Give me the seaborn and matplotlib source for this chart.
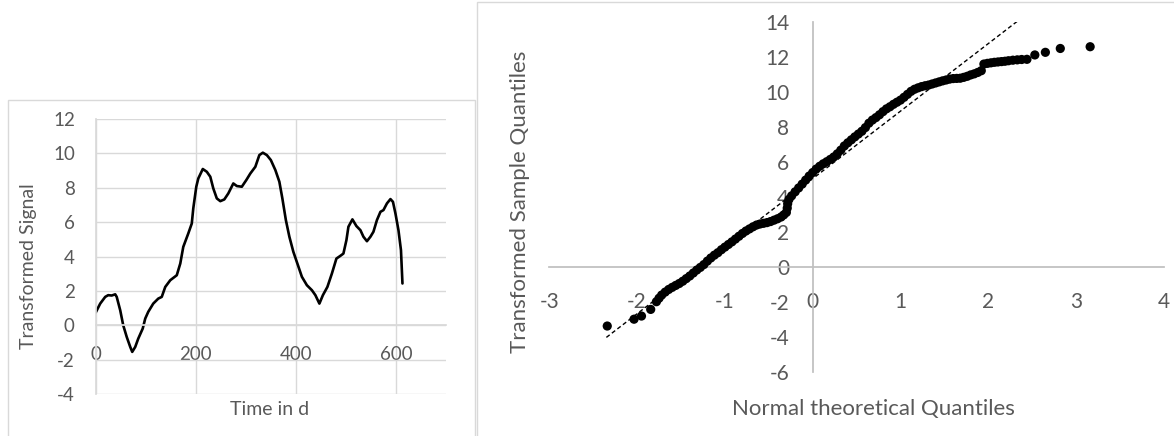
import matplotlib
matplotlib.use("Agg")
import matplotlib.pyplot as plt
import seaborn as sns
import pandas as pd
from matplotlib.patches import Rectangle

sns.set_theme(style="white")
plt.rcParams["font.family"] = ["Lato", "DejaVu Sans"]
plt.rcParams["axes.unicode_minus"] = False

TEXT = "#595959"
GRID = "#d9d9d9"

# left panel: transformed signal over time
days = [0, 9, 19, 25, 32, 39, 42, 49, 55, 62, 69, 73, 79, 85, 94, 99, 105, 115,
        125, 132, 139, 149, 162, 169, 175, 185, 192, 195, 201, 205, 214, 222, 229,
        235, 242, 249, 257, 265, 275, 282, 292, 301, 309, 319, 327, 334, 342, 350,
        359, 367, 373, 380, 387, 395, 403, 412, 422, 432, 439, 447, 454, 463, 472,
        481, 489, 495, 501, 505, 513, 521, 529, 535, 542, 549, 555, 562, 569, 575,
        582, 589, 594, 599, 605, 610, 613]
signal = [0.74, 1.26, 1.65, 1.75, 1.73, 1.80, 1.65, 0.87, 0.0, -0.68, -1.26, -1.55,
          -1.26, -0.78, -0.19, 0.39, 0.78, 1.26, 1.55, 1.65, 2.23, 2.62, 2.91, 3.59,
          4.56, 5.34, 5.92, 6.80, 8.06, 8.54, 9.09, 8.93, 8.64, 7.96, 7.38, 7.22,
          7.32, 7.67, 8.25, 8.10, 8.06, 8.45, 8.83, 9.22, 9.90, 10.04, 9.90, 9.61,
          9.03, 8.35, 7.38, 6.12, 5.15, 4.27, 3.59, 2.82, 2.33, 2.04, 1.75, 1.26,
          1.75, 2.23, 3.01, 3.88, 4.04, 4.17, 4.95, 5.73, 6.16, 5.77, 5.53, 5.15,
          4.89, 5.15, 5.44, 6.12, 6.60, 6.70, 7.09, 7.34, 7.18, 6.50, 5.53, 4.37, 2.43]

# right panel: normal QQ plot
theo_q = [-2.34, -2.035, -1.95, -1.845, -1.78, -1.75, -1.72, -1.68, -1.64, -1.60,
          -1.56, -1.52, -1.48, -1.44, -1.40, -1.36, -1.32, -1.28, -1.24, -1.20,
          -1.16, -1.12, -1.08, -1.04, -1.00, -0.96, -0.92, -0.88, -0.84, -0.80,
          -0.76, -0.72, -0.68, -0.64, -0.60, -0.56, -0.52, -0.48, -0.44, -0.40,
          -0.36, -0.33, -0.30, -0.29, -0.285, -0.27, -0.24, -0.20, -0.16, -0.12,
          -0.08, -0.04, 0.00, 0.04, 0.08, 0.12, 0.16, 0.20, 0.24, 0.28, 0.32, 0.36,
          0.40, 0.44, 0.48, 0.52, 0.56, 0.60, 0.64, 0.68, 0.72, 0.76, 0.80, 0.84,
          0.88, 0.92, 0.96, 1.00, 1.04, 1.08, 1.12, 1.16, 1.20, 1.24, 1.28, 1.32,
          1.36, 1.40, 1.44, 1.48, 1.52, 1.56, 1.60, 1.64, 1.68, 1.72, 1.76, 1.80,
          1.84, 1.88, 1.92, 1.95, 1.99, 2.03, 2.07, 2.11, 2.15, 2.19, 2.23, 2.28,
          2.33, 2.38, 2.44, 2.53, 2.65, 2.82, 3.16]
sample_q = [-3.39, -3.00, -2.82, -2.44, -2.00, -1.80, -1.62, -1.45, -1.30, -1.18,
            -1.07, -0.96, -0.83, -0.68, -0.53, -0.36, -0.19, -0.04, 0.12, 0.32,
            0.50, 0.66, 0.80, 0.97, 1.12, 1.27, 1.42, 1.58, 1.74, 1.90,
            2.04, 2.16, 2.28, 2.38, 2.44, 2.48, 2.52, 2.58, 2.66, 2.74,
            2.84, 2.96, 3.10, 3.35, 3.60, 3.85, 4.05, 4.28, 4.50, 4.72,
            4.95, 5.18, 5.38, 5.58, 5.74, 5.88, 6.00, 6.13, 6.27, 6.45, 6.66, 6.90,
            7.08, 7.25, 7.42, 7.58, 7.74, 7.95, 8.20, 8.38, 8.52, 8.68, 8.86, 9.02,
            9.14, 9.28, 9.40, 9.52, 9.68, 9.85, 10.02, 10.14, 10.22, 10.29, 10.34, 10.38,
            10.44, 10.50, 10.56, 10.62, 10.67, 10.72, 10.75, 10.76, 10.77, 10.82, 10.88, 10.96,
            11.02, 11.10, 11.20, 11.58, 11.62, 11.65, 11.68, 11.70, 11.72, 11.74, 11.77, 11.80,
            11.82, 11.84, 11.85, 12.10, 12.25, 12.47, 12.57]
fit_q = [-2.35, 2.35]
fit_s = [-4.04, 14.1]

ts = pd.DataFrame({"day": days, "signal": signal})
qq = pd.DataFrame({"theo": theo_q, "sample": sample_q})
fit = pd.DataFrame({"theo": fit_q, "sample": fit_s})

fig = plt.figure(figsize=(11.74, 4.36), dpi=100)

# chart frames
fig.patches.append(Rectangle((7.5 / 1174, -0.05), (475 - 7.5) / 1174, (436 - 100) / 436 + 0.05,
                             transform=fig.transFigure, fill=False, edgecolor=GRID, lw=1))
fig.patches.append(Rectangle((477 / 1174, -0.05), 0.6, (436 - 2) / 436 + 0.05,
                             transform=fig.transFigure, fill=False, edgecolor=GRID, lw=1))

# ---- left chart
ax1 = fig.add_axes([95.7 / 1174, 42 / 436, 350.3 / 1174, 275 / 436])
sns.lineplot(data=ts, x="day", y="signal", ax=ax1, color="black", lw=1.9,
             estimator=None, sort=False)
ax1.set_xlim(0, 700)
ax1.set_ylim(-4, 12)
ax1.set_xticks([0, 200, 400, 600])
ax1.set_yticks(range(-4, 13, 2))
ax1.grid(True, color=GRID, lw=1)
for side in ["top", "right"]:
    ax1.spines[side].set_visible(False)
ax1.spines["bottom"].set_position(("data", 0))
ax1.spines["left"].set_position(("data", 0))
ax1.spines["bottom"].set_color(GRID)
ax1.spines["left"].set_color(GRID)
ax1.tick_params(length=0, labelsize=13.5, labelcolor=TEXT)
ax1.tick_params(axis="x", pad=15)
ax1.tick_params(axis="y", pad=15)
ax1.set_xlabel("Time in d", fontsize=14, color=TEXT)
ax1.set_ylabel("Transformed Signal", fontsize=14, color=TEXT)
ax1.xaxis.set_label_coords(0.4976, -0.058)
ax1.yaxis.set_label_coords(-0.192, 0.4636)
ax1.xaxis.label.set_va("center")
ax1.yaxis.label.set_va("center")
ax1.set_axisbelow(True)

# ---- right chart
ax2 = fig.add_axes([549.3 / 1174, 64.3 / 436, 614.6 / 1174, 350 / 436])
sns.lineplot(data=fit, x="theo", y="sample", ax=ax2, color="black", lw=1,
             linestyle=(0, (3, 2)))
sns.scatterplot(data=qq, x="theo", y="sample", ax=ax2, color="black", s=44,
                edgecolor="none", zorder=3)
ax2.set_xlim(-3, 4)
ax2.set_ylim(-6, 14)
ax2.set_xticks(range(-3, 5))
ax2.set_yticks(range(-6, 15, 2))
for side in ["top", "right"]:
    ax2.spines[side].set_visible(False)
ax2.spines["bottom"].set_position(("data", 0))
ax2.spines["left"].set_position(("data", 0))
ax2.spines["bottom"].set_color("#bfbfbf")
ax2.spines["left"].set_color("#bfbfbf")
ax2.tick_params(direction="inout", length=10, width=1, color="#bfbfbf",
                labelsize=15, labelcolor=TEXT)
ax2.tick_params(axis="x", pad=13)
ax2.tick_params(axis="y", pad=12)
ax2.set_xlabel("Normal theoretical Quantiles", fontsize=16, color=TEXT)
ax2.set_ylabel("Transformed Sample Quantiles", fontsize=16, color=TEXT)
ax2.xaxis.set_label_coords(0.527, -0.107)
ax2.yaxis.set_label_coords(-0.048, 0.486)
ax2.xaxis.label.set_va("center")
ax2.yaxis.label.set_va("center")
ax2.patch.set_alpha(0)

fig.savefig("out.png", dpi=100)
